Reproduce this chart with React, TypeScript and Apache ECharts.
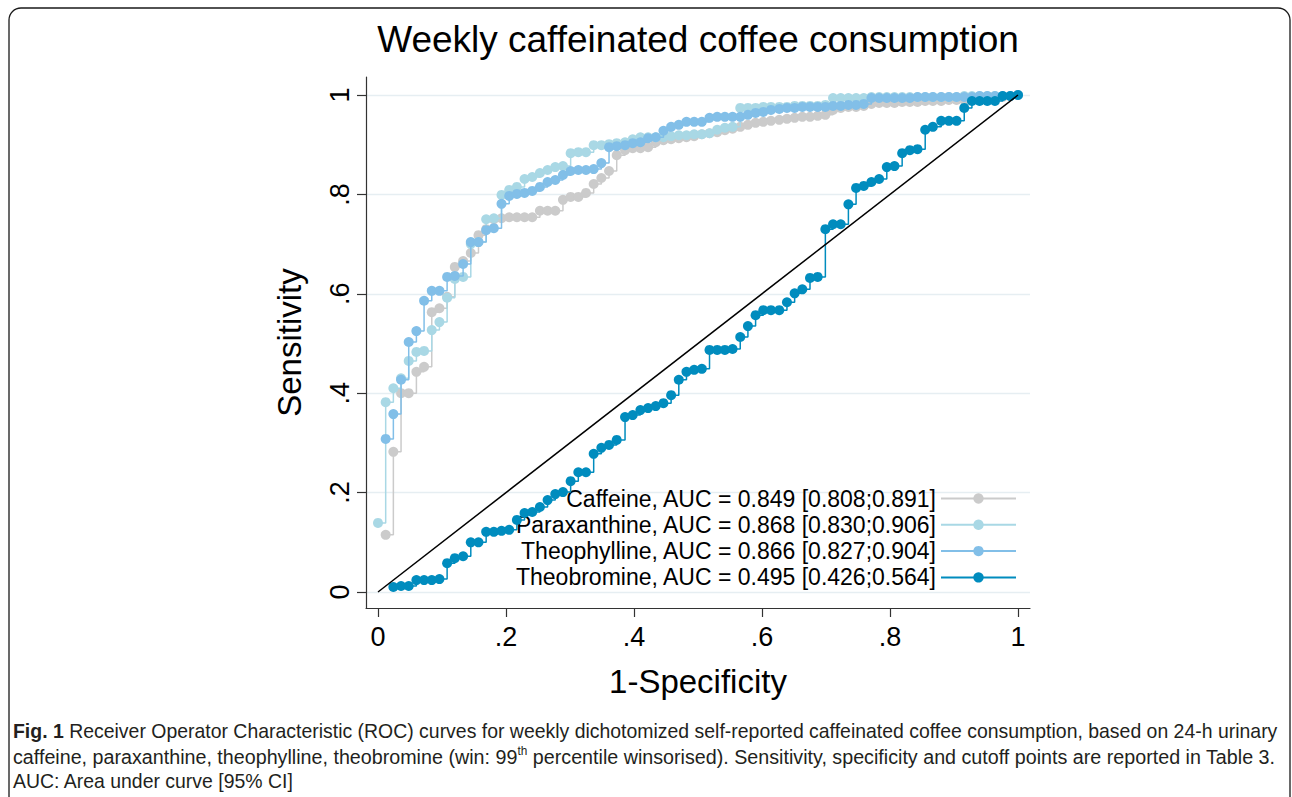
import React, { useEffect, useRef } from "react";
import * as echarts from "echarts";

const FONT = "'Liberation Sans', Arial, sans-serif";
const CAPTION_FAMILY = "'Liberation Sans', Arial, sans-serif";

const TITLE = "Weekly caffeinated coffee consumption";
const X_NAME = "1-Specificity";
const Y_NAME = "Sensitivity";
const TICKS = [0, 0.2, 0.4, 0.6, 0.8, 1];

const SERIES_NAMES = [
  "Caffeine, AUC = 0.849 [0.808;0.891]",
  "Paraxanthine, AUC = 0.868 [0.830;0.906]",
  "Theophylline, AUC = 0.866 [0.827;0.904]",
  "Theobromine, AUC = 0.495 [0.426;0.564]",
];
const SERIES_COLORS = ["#cbcbcb", "#a9d8e5", "#82bfe8", "#008cbe"];

// 1-Specificity grid (x values)
const fprGrid = [
  0.000, 0.012, 0.024, 0.036, 0.048, 0.060, 0.072, 0.084, 0.096, 0.108,
  0.120, 0.133, 0.145, 0.157, 0.169, 0.181, 0.193, 0.205, 0.217, 0.229,
  0.241, 0.253, 0.265, 0.277, 0.289, 0.301, 0.313, 0.325, 0.337, 0.349,
  0.361, 0.373, 0.386, 0.398, 0.410, 0.422, 0.434, 0.446, 0.458, 0.470,
  0.482, 0.494, 0.506, 0.518, 0.530, 0.542, 0.554, 0.566, 0.578, 0.590,
  0.602, 0.614, 0.627, 0.639, 0.651, 0.663, 0.675, 0.687, 0.699, 0.711,
  0.723, 0.735, 0.747, 0.759, 0.771, 0.783, 0.795, 0.807, 0.819, 0.831,
  0.843, 0.855, 0.867, 0.880, 0.892, 0.904, 0.916, 0.928, 0.940, 0.952,
  0.964, 0.976, 0.988, 1.000,
];

// Sensitivity values on that grid (null = no point)
const caffeine = [
  null, 0.115, 0.282, 0.400, 0.400, 0.443, 0.453, 0.563, 0.571, 0.594,
  0.654, 0.666, 0.682, 0.718, 0.730, 0.750, 0.752, 0.754, 0.754, 0.754,
  0.754, 0.767, 0.767, 0.767, 0.789, 0.795, 0.795, 0.803, 0.821, 0.833,
  0.847, 0.879, 0.889, 0.893, 0.893, 0.895, 0.905, 0.909, 0.911, 0.913,
  0.915, 0.917, 0.921, 0.923, 0.925, 0.929, 0.932, 0.936, 0.940, 0.944,
  0.946, 0.948, 0.950, 0.952, 0.954, 0.956, 0.956, 0.958, 0.960, 0.970,
  0.974, 0.976, 0.976, 0.978, 0.982, 0.984, 0.984, 0.984, 0.986, 0.986,
  0.986, 0.988, 0.988, 0.988, 0.990, 0.990, 0.990, 0.992, 0.992, 0.994,
  0.994, 0.996, 0.998, 1.000,
];

const paraxanthine = [
  0.139, 0.382, 0.410, 0.430, 0.465, 0.483, 0.485, 0.527, 0.543, 0.592,
  0.630, 0.634, 0.700, 0.704, 0.750, 0.752, 0.799, 0.809, 0.815, 0.831,
  0.835, 0.843, 0.849, 0.855, 0.857, 0.883, 0.885, 0.885, 0.899, 0.899,
  0.901, 0.903, 0.905, 0.911, 0.915, 0.915, 0.915, 0.915, 0.917, 0.919,
  0.919, 0.921, 0.921, 0.923, 0.930, 0.934, 0.936, 0.974, 0.974, 0.974,
  0.976, 0.976, 0.976, 0.976, 0.978, 0.978, 0.978, 0.978, 0.980, 0.994,
  0.994, 0.994, 0.994, 0.994, 0.996, 0.996, 0.996, 0.996, 0.996, 0.996,
  0.996, 0.996, 0.996, 0.996, 0.996, 0.996, 0.998, 0.998, 0.998, 0.998,
  0.998, 0.998, 0.998, 1.000,
];

const theophylline = [
  null, 0.308, 0.358, 0.427, 0.503, 0.525, 0.586, 0.606, 0.606, 0.634,
  0.636, 0.660, 0.704, 0.704, 0.728, 0.732, 0.781, 0.797, 0.801, 0.803,
  0.807, 0.815, 0.825, 0.829, 0.839, 0.847, 0.849, 0.849, 0.851, 0.863,
  0.895, 0.897, 0.899, 0.903, 0.905, 0.913, 0.915, 0.928, 0.936, 0.940,
  0.946, 0.946, 0.946, 0.954, 0.956, 0.956, 0.956, 0.956, 0.960, 0.964,
  0.966, 0.970, 0.972, 0.974, 0.974, 0.976, 0.976, 0.976, 0.976, 0.978,
  0.978, 0.980, 0.980, 0.982, 0.994, 0.994, 0.994, 0.994, 0.994, 0.994,
  0.996, 0.996, 0.996, 0.996, 0.996, 0.996, 0.996, 0.996, 0.998, 0.998,
  0.998, 0.998, 0.998, 1.000,
];

const theobromine = [
  null, null, 0.010, 0.012, 0.012, 0.024, 0.024, 0.024, 0.026, 0.058,
  0.068, 0.072, 0.100, 0.100, 0.121, 0.121, 0.123, 0.125, 0.145, 0.159,
  0.161, 0.171, 0.185, 0.197, 0.201, 0.223, 0.241, 0.241, 0.278, 0.290,
  0.296, 0.306, 0.352, 0.356, 0.366, 0.370, 0.374, 0.380, 0.396, 0.427,
  0.443, 0.447, 0.449, 0.487, 0.487, 0.487, 0.489, 0.513, 0.535, 0.557,
  0.567, 0.567, 0.567, 0.583, 0.601, 0.609, 0.632, 0.634, 0.730, 0.740,
  0.740, 0.780, 0.813, 0.817, 0.825, 0.831, 0.855, 0.857, 0.883, 0.889,
  0.891, 0.930, 0.936, 0.948, 0.948, 0.948, 0.974, 0.988, 0.988, 0.988,
  0.988, 0.998, 0.998, 1.000,
];

const referenceLine = [
  [0, 0],
  [1, 1],
];

const CAPTION_BOLD = "Fig. 1";
const CAPTION_1_REST =
  " Receiver Operator Characteristic (ROC) curves for weekly dichotomized self-reported caffeinated coffee consumption, based on 24-h urinary";
const CAPTION_2_A = "caffeine, paraxanthine, theophylline, theobromine (win: 99";
const CAPTION_2_SUP = "th";
const CAPTION_2_B = " percentile winsorised). Sensitivity, specificity and cutoff points are reported in Table 3.";
const CAPTION_3 = "AUC: Area under curve [95% CI]";

const SERIES_VALUES = [caffeine, paraxanthine, theophylline, theobromine];

function toPoints(values: (number | null)[]) {
  const pts: number[][] = [];
  values.forEach((v, i) => {
    if (v !== null) pts.push([fprGrid[i], v]);
  });
  return pts;
}

function fmtTick(v: number) {
  if (v === 0) return "0";
  if (v === 1) return "1";
  return v.toFixed(1).replace(/^0/, "");
}

function measure(text: string, font: string) {
  const c = document.createElement("canvas").getContext("2d");
  if (!c) return text.length * 10;
  c.font = font;
  return c.measureText(text).width;
}

export default function App() {
  const ref = useRef<HTMLDivElement | null>(null);

  useEffect(() => {
    if (!ref.current) return;
    const chart = echarts.init(ref.current, null, { renderer: "svg" });

    const CAP_SIZE = 20;
    const SUP_SIZE = 12;
    const w1 =
      measure(CAPTION_BOLD, `bold ${CAP_SIZE}px ${CAPTION_FAMILY}`) +
      measure(CAPTION_1_REST, `${CAP_SIZE}px ${CAPTION_FAMILY}`);
    const w2 =
      measure(CAPTION_2_A + CAPTION_2_B, `${CAP_SIZE}px ${CAPTION_FAMILY}`) +
      measure(CAPTION_2_SUP, `${SUP_SIZE}px ${CAPTION_FAMILY}`);
    const s1 = 1265 / w1;
    const s2 = 1262 / w2;

    const series: any[] = SERIES_NAMES.map((name, i) => ({
      name,
      type: "line",
      step: "end",
      data: toPoints(SERIES_VALUES[i]),
      symbol: "circle",
      symbolSize: 10,
      showSymbol: true,
      color: SERIES_COLORS[i],
      itemStyle: { color: SERIES_COLORS[i] },
      lineStyle: { color: SERIES_COLORS[i], width: 1.5 },
      z: 2 + i,
      silent: true,
    }));
    series.push({
      name: "reference",
      type: "line",
      data: referenceLine,
      symbol: "none",
      lineStyle: { color: "#000", width: 1.5 },
      z: 10,
      silent: true,
    });

    const capStyle = (text: string, rich?: any) => ({
      text,
      fontFamily: CAPTION_FAMILY,
      fontSize: CAP_SIZE,
      fill: "#231f20",
      verticalAlign: "middle",
      rich,
    });

    const option: any = {
      animation: false,
      backgroundColor: "#ffffff",
      textStyle: { fontFamily: FONT },
      title: {
        text: TITLE,
        left: 693,
        top: 16,
        textAlign: "center",
        textStyle: { fontFamily: FONT, fontSize: 37, fontWeight: "normal", color: "#000" },
      },
      legend: {
        data: SERIES_NAMES,
        orient: "vertical",
        align: "right",
        right: 270,
        top: 482,
        itemWidth: 75,
        itemHeight: 13,
        itemGap: 3.3,
        textStyle: { fontFamily: FONT, fontSize: 23, color: "#000" },
        selectedMode: false,
      },
      grid: { left: 366, right: 262, top: 77, bottom: 189 },
      xAxis: {
        type: "value",
        min: -0.01875,
        max: 1.01875,
        name: X_NAME,
        nameLocation: "middle",
        nameGap: 57,
        nameTextStyle: { fontFamily: FONT, fontSize: 33, color: "#000" },
        axisLine: { show: true, onZero: false, lineStyle: { color: "#333", width: 1.2 } },
        axisTick: { show: true, customValues: TICKS, length: 9, lineStyle: { color: "#333", width: 1.2 } },
        axisLabel: { customValues: TICKS, formatter: fmtTick, fontSize: 27, color: "#000", margin: 15, fontFamily: FONT },
        splitLine: { show: false },
      },
      yAxis: {
        type: "value",
        min: -0.0322,
        max: 1.0362,
        name: Y_NAME,
        nameLocation: "middle",
        nameGap: 60,
        nameRotate: 90,
        nameTextStyle: { fontFamily: FONT, fontSize: 33, color: "#000" },
        axisLine: { show: true, onZero: false, lineStyle: { color: "#333", width: 1.2 } },
        axisTick: { show: true, customValues: TICKS, length: 9, lineStyle: { color: "#333", width: 1.2 } },
        axisLabel: { customValues: TICKS, formatter: fmtTick, fontSize: 27, color: "#000", margin: 13, rotate: 90, fontFamily: FONT },
        splitLine: { show: true, lineStyle: { color: "#e6eef2", width: 1.3 } },
      },
      graphic: [
        {
          type: "rect",
          shape: { x: 9, y: 8, width: 1281, height: 860, r: 12 },
          style: { fill: "none", stroke: "#1a1a1a", lineWidth: 1.3 },
          silent: true,
        },
        {
          type: "text",
          x: 13,
          y: 731,
          scaleX: s1,
          silent: true,
          style: capStyle(`{b|${CAPTION_BOLD}}${CAPTION_1_REST}`, {
            b: { fontFamily: CAPTION_FAMILY, fontSize: CAP_SIZE, fontWeight: "bold", fill: "#231f20" },
          }),
        },
        {
          type: "text",
          x: 13,
          y: 757,
          scaleX: s2,
          silent: true,
          style: capStyle(`${CAPTION_2_A}{sup|${CAPTION_2_SUP}}${CAPTION_2_B}`, {
            sup: { fontFamily: CAPTION_FAMILY, fontSize: SUP_SIZE, fill: "#231f20", verticalAlign: "top", lineHeight: 24 },
          }),
        },
        {
          type: "text",
          x: 13,
          y: 781,
          scaleX: s1,
          silent: true,
          style: capStyle(CAPTION_3),
        },
      ],
      series,
    };

    chart.setOption(option);
    return () => chart.dispose();
  }, []);

  return (
    <div
      ref={ref}
      style={{ position: "fixed", left: 0, top: 0, width: 1292, height: 797, background: "#fff" }}
    />
  );
}
